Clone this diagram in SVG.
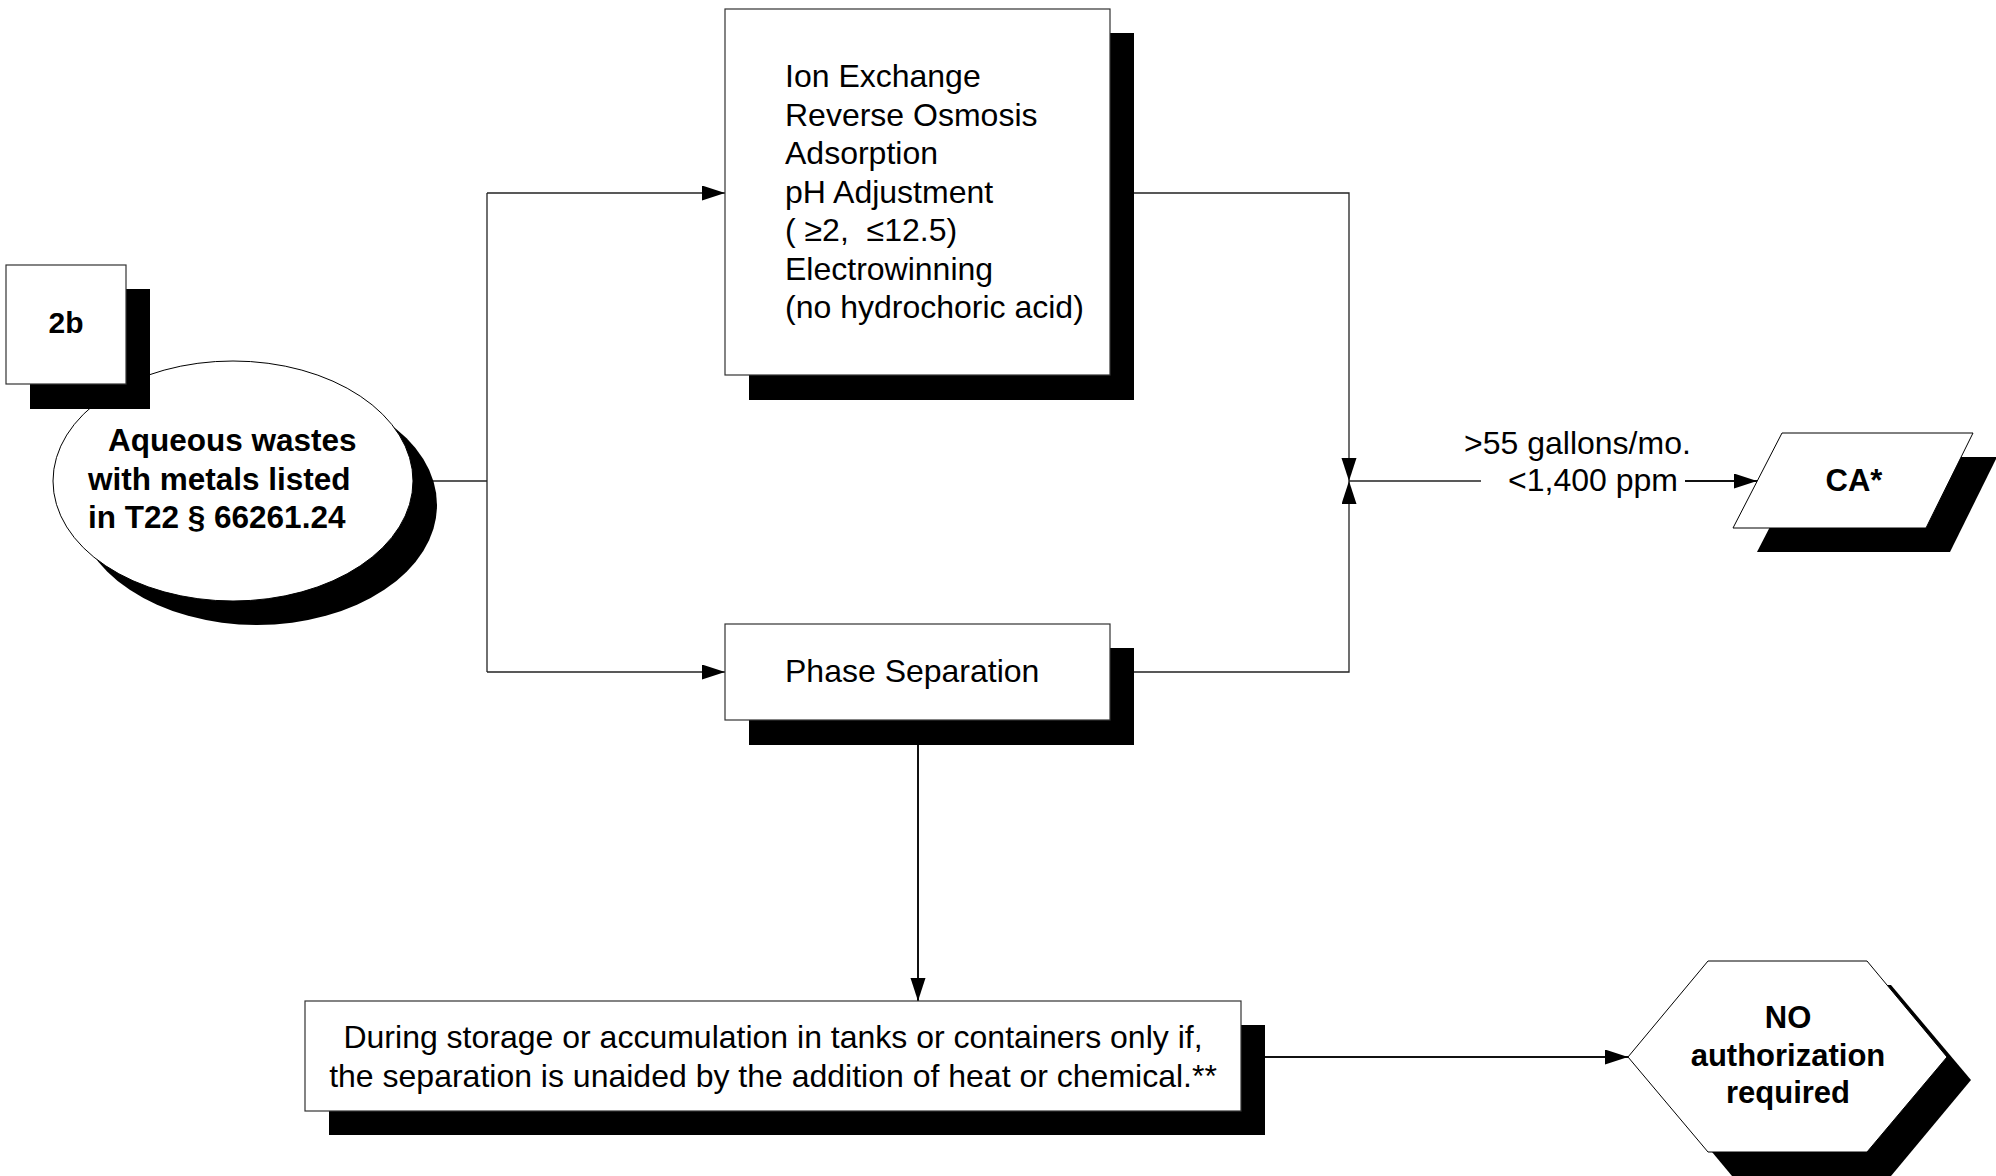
<svg xmlns="http://www.w3.org/2000/svg" width="1996" height="1176" viewBox="0 0 1996 1176">
<style>
.t{font-family:"Liberation Sans",Arial,sans-serif;fill:#000}
.b{font-weight:bold}
.box{fill:#fff;stroke:#333;stroke-width:1.2}
.sh{fill:#000}
.ln{fill:none;stroke:#222;stroke-width:1.3}
.ln2{fill:none;stroke:#111;stroke-width:2}
</style>
<defs>
<marker id="ah" markerUnits="userSpaceOnUse" markerWidth="24" markerHeight="16" refX="23" refY="7.5" orient="auto">
<path d="M0,0 L23,7.5 L0,15 z" fill="#000"/>
</marker>
</defs>
<rect width="1996" height="1176" fill="#fff"/>
<g id="connectors">
<path class="ln" d="M413,481 H487"/>
<path class="ln" d="M487,193 V672"/>
<path class="ln" d="M487,193 H725" marker-end="url(#ah)"/>
<path class="ln" d="M487,672 H725" marker-end="url(#ah)"/>
<path class="ln" d="M1110,193 H1349 V481" marker-end="url(#ah)"/>
<path class="ln" d="M1110,672 H1349 V481" marker-end="url(#ah)"/>
<path class="ln" d="M1349,481 H1481"/>
<path class="ln2" d="M1685,481 H1757" marker-end="url(#ah)"/>
<path class="ln2" d="M918,720 V1001" marker-end="url(#ah)"/>
<path class="ln2" d="M1241,1057 H1628" marker-end="url(#ah)"/>
<text class="t" x="1464" y="454" font-size="32">&gt;55 gallons/mo.</text>
<text class="t" x="1508" y="491" font-size="32">&lt;1,400 ppm</text>
</g>
<g id="node-ellipse">
<ellipse class="sh" cx="257" cy="505" rx="180" ry="120"/>
<ellipse cx="233" cy="481" rx="180" ry="120" fill="#fff" stroke="#000" stroke-width="1"/>
<text class="t b" font-size="31.5"><tspan x="108" y="451">Aqueous wastes</tspan><tspan x="88" y="490">with metals listed</tspan><tspan x="88" y="528">in T22 § 66261.24</tspan></text>
</g>
<g id="node-2b">
<rect class="sh" x="30" y="289" width="120" height="120"/>
<rect class="box" x="6" y="265" width="120" height="119"/>
<text class="t b" x="66" y="333" font-size="30" text-anchor="middle">2b</text>
</g>
<g id="node-treat">
<rect class="sh" x="749" y="33" width="385" height="367"/>
<rect class="box" x="725" y="9" width="385" height="366"/>
<text class="t" font-size="32" xml:space="preserve"><tspan x="785" y="87">Ion Exchange</tspan><tspan x="785" y="125.5">Reverse Osmosis</tspan><tspan x="785" y="164">Adsorption</tspan><tspan x="785" y="202.5">pH Adjustment</tspan><tspan x="785" y="241">( ≥2,  ≤12.5)</tspan><tspan x="785" y="279.5">Electrowinning</tspan><tspan x="785" y="318">(no hydrochoric acid)</tspan></text>
</g>
<g id="node-phase">
<rect class="sh" x="749" y="648" width="385" height="97"/>
<rect class="box" x="725" y="624" width="385" height="96"/>
<text class="t" x="785" y="682" font-size="32">Phase Separation</text>
</g>
<g id="node-ca">
<polygon class="sh" points="1806,457 1997,457 1950,552 1757,552"/>
<polygon points="1782,433 1973,433 1926,528 1733,528" fill="#fff" stroke="#000" stroke-width="1"/>
<text class="t b" x="1854" y="491" font-size="31" text-anchor="middle">CA*</text>
</g>
<g id="node-storage">
<rect class="sh" x="329" y="1025" width="936" height="110"/>
<rect class="box" x="305" y="1001" width="936" height="110"/>
<text class="t" font-size="32" text-anchor="middle"><tspan x="773" y="1048">During storage or accumulation in tanks or containers only if,</tspan><tspan x="773" y="1087">the separation is unaided by the addition of heat or chemical.**</tspan></text>
</g>
<g id="node-noauth">
<polygon class="sh" points="1652,1080 1732,985 1891,985 1971,1080 1891,1176 1732,1176"/>
<polygon points="1628,1057 1708,961 1867,961 1947,1057 1867,1152 1708,1152" fill="#fff" stroke="#000" stroke-width="1"/>
<text class="t b" font-size="31" text-anchor="middle"><tspan x="1788" y="1028">NO</tspan><tspan x="1788" y="1066">authorization</tspan><tspan x="1788" y="1103">required</tspan></text>
</g>
</svg>
